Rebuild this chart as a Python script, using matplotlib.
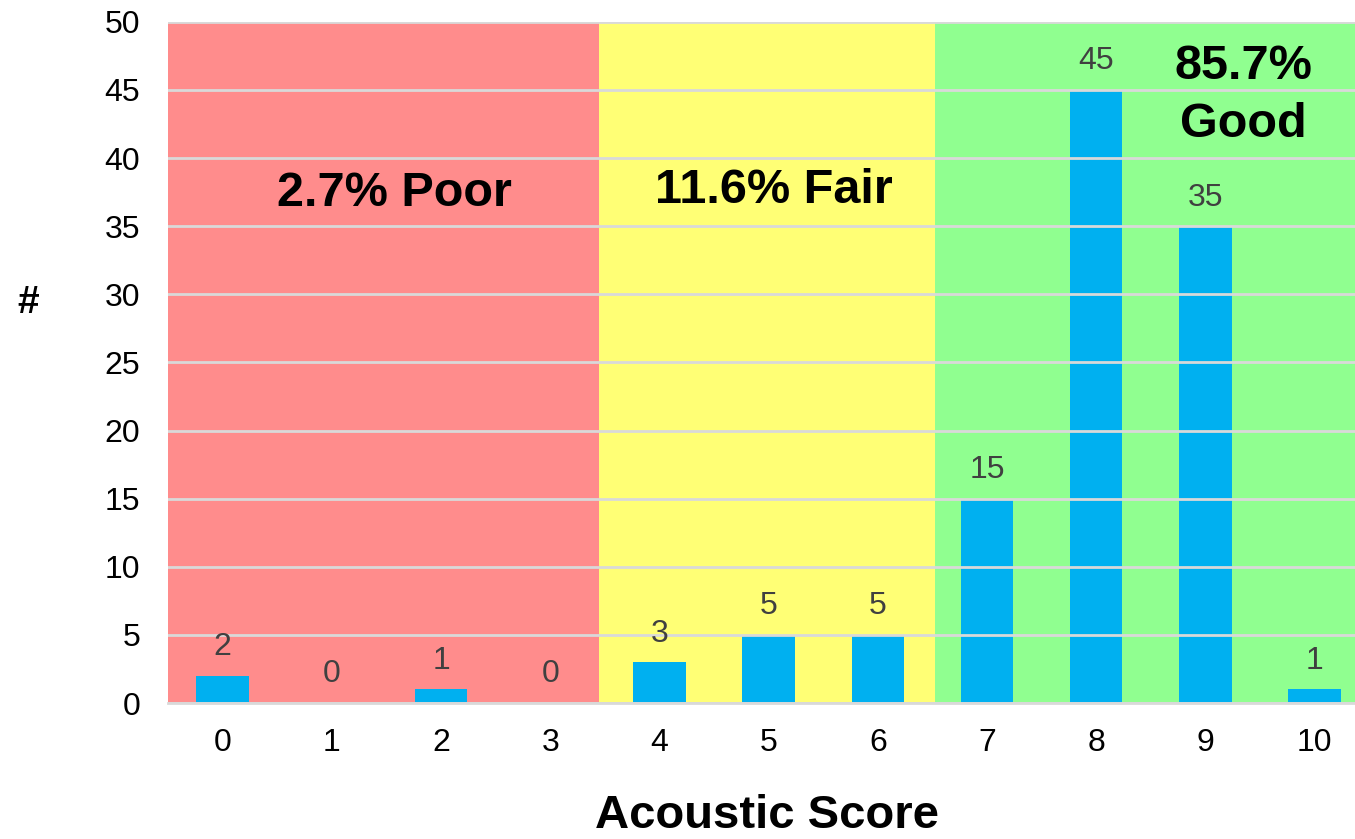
import numpy as np
import matplotlib.pyplot as plt

plt.rcParams['font.family'] = ['Liberation Sans', 'DejaVu Sans']

scores = [0, 1, 2, 3, 4, 5, 6, 7, 8, 9, 10]
counts = [2, 0, 1, 0, 3, 5, 5, 15, 45, 35, 1]
zones = ['2.7% Poor', '11.6% Fair', '85.7%\nGood']
zone_colors = ['#ff8c8c', '#ffff75', '#90ff90']
zone_edges = [-0.5, 3.45, 6.52, 10.5]

fig = plt.figure(figsize=(13.55, 8.39), dpi=100)
ax = fig.add_axes([0.124, 0.162, 0.876, 0.812])

# coloured zones behind the bars
for i in range(3):
    ax.axvspan(zone_edges[i], zone_edges[i + 1], color=zone_colors[i], zorder=0, lw=0)

ax.set_axisbelow(False)
ax.yaxis.grid(True, color='#d9d9d9', lw=2, zorder=1)
ax.bar(scores, counts, width=0.48, color='#00b0f0', zorder=2)

for x, c in zip(scores, counts):
    ax.text(x, c + 1.0, str(c), ha='center', va='bottom', fontsize=23, color='#404040', zorder=3)

ax.text(1.57, 37.4, zones[0], ha='center', va='center', fontsize=35, fontweight='bold', zorder=3)
ax.text(5.05, 37.6, zones[1], ha='center', va='center', fontsize=35, fontweight='bold', zorder=3)
ax.text(9.35, 44.6, zones[2], ha='center', va='center', fontsize=35, fontweight='bold',
        linespacing=1.35, zorder=3)

ax.set_xlim(-0.5, 10.37)
ax.set_ylim(0, 50)
ax.set_xticks(scores)
ax.set_yticks(np.arange(0, 51, 5))
ax.tick_params(length=0, labelsize=23, pad=18)
ax.tick_params(axis='y', pad=20)
for s in ['top', 'right', 'left']:
    ax.spines[s].set_visible(False)
ax.spines['bottom'].set_color('#d9d9d9')
ax.spines['bottom'].set_linewidth(2)

fig.text(0.021, 0.639, '#', ha='center', va='center', fontsize=28, fontweight='bold')
fig.text(0.566, 0.027, 'Acoustic Score', ha='center', va='center', fontsize=34, fontweight='bold')

fig.savefig('out.png', dpi=100)
